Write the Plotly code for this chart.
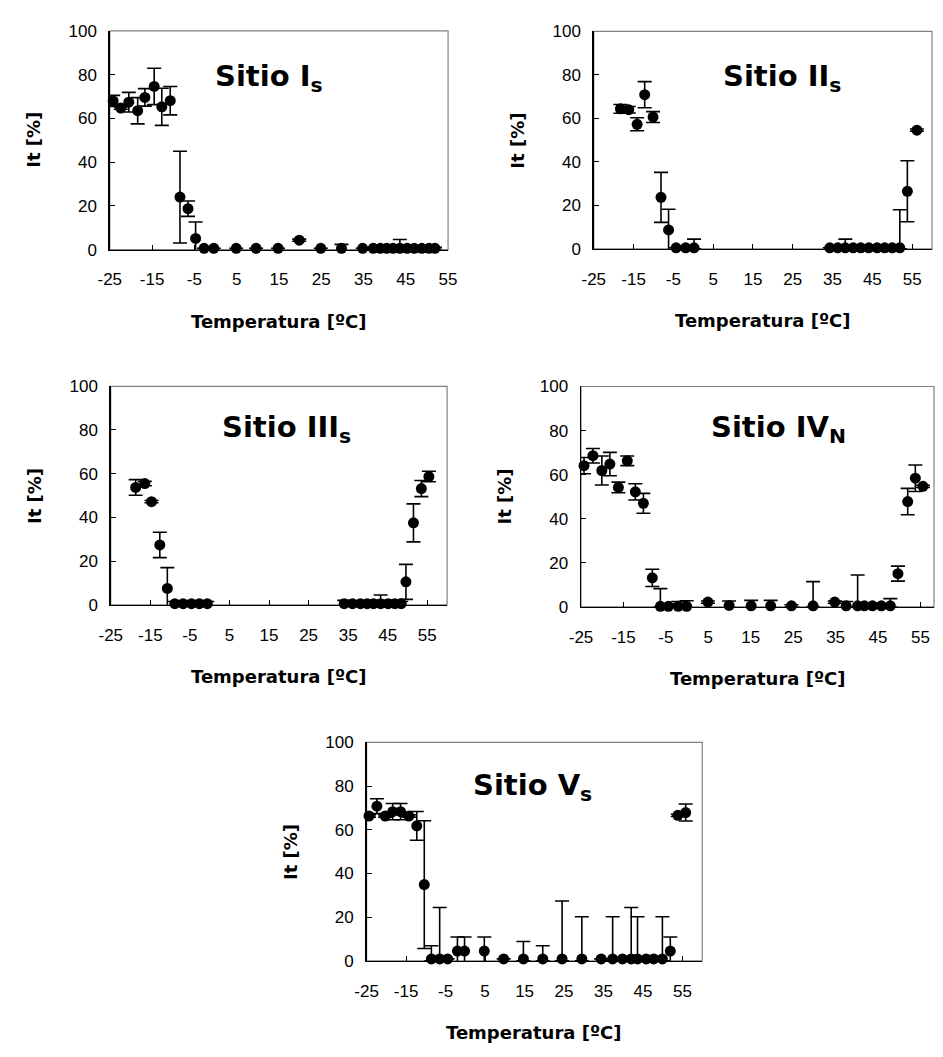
import plotly.graph_objects as go

W, H = 943, 1057

# ---------------- data (temperature, It %, error) ----------------
t1 = [-24.2, -22.4, -20.5, -18.4, -16.7, -14.5, -12.7, -10.7, -8.4, -6.5, -4.7, -2.7, -0.4,
      4.9, 9.6, 14.8, 19.8, 24.9, 29.8, 34.8, 37.3, 39.0, 40.5, 42.0, 43.6, 45.3, 47.0, 48.8, 50.5, 51.9]
v1 = [68, 64.7, 67.4, 63.5, 69.6, 74.6, 65.3, 68.1, 24, 18.7, 5.1, 0.6, 0.6,
      0.6, 0.6, 0.6, 4.3, 0.6, 0.6, 0.6, 0.6, 0.6, 0.6, 0.6, 0.6, 0.6, 0.6, 0.6, 0.6, 0.6]
e1 = [2.5, 0.5, 4.5, 6, 4, 8.3, 8.5, 6.5, 21, 3.5, 7.5, 0, 0,
      0, 0, 0, 0.5, 0, 1.8, 0, 0, 1, 1.5, 1.5, 4, 1.5, 1, 0.5, 0.5, 0.5]

t2 = [-18.3, -16.2, -14.1, -12.2, -10.1, -8.1, -6.2, -4.3, -1.9, 0.2,
      34.3, 36.3, 38.2, 40.2, 42.1, 44.1, 46.2, 48.1, 50.0, 51.9, 53.8, 56.2]
v2 = [64.4, 64, 57.3, 70.9, 60.6, 23.7, 8.7, 0.5, 0.5, 0.5,
      0.5, 0.5, 0.5, 0.5, 0.5, 0.5, 0.5, 0.5, 0.5, 0.5, 26.5, 54.6]
e2 = [2, 1.5, 3, 6, 2.5, 11.5, 9.5, 0, 0, 4,
      0, 0, 4, 0, 0, 0, 0, 0, 0, 17.5, 14, 0.5]

t3 = [-18.7, -16.4, -14.7, -12.6, -10.7, -8.8, -6.7, -4.6, -2.6, -0.6,
      34.0, 36.1, 38.1, 39.8, 41.4, 43.2, 45.1, 46.8, 48.4, 49.6, 51.5, 53.5, 55.4]
v3 = [53.7, 55.5, 47.2, 27.4, 7.5, 0.5, 0.5, 0.5, 0.5, 0.5,
      0.5, 0.5, 0.5, 0.5, 0.5, 0.5, 0.5, 0.5, 0.5, 10.5, 37.5, 53.2, 58.7]
e3 = [3.6, 1, 0.5, 5.8, 9.5, 1, 1, 1, 1, 1,
      1.5, 1, 1, 1, 1.5, 4, 1.5, 1, 1, 8, 8.7, 3.7, 2.4]

t4 = [-24.3, -22.2, -20.1, -18.2, -16.2, -14.1, -12.2, -10.3, -8.2, -6.3, -4.4, -2.1, -0.1,
      4.9, 9.9, 15.1, 19.7, 24.6, 29.7, 34.8, 37.5, 40.2, 41.8, 43.7, 45.8, 47.9, 49.7, 52.0, 53.8, 55.6]
v4 = [64.1, 68.6, 61.9, 64.8, 54.2, 66.3, 52.2, 47, 13.2, 0.3, 0.3, 0.3, 0.3,
      2.2, 0.7, 0.5, 0.5, 0.5, 0.5, 2.2, 0.5, 0.5, 0.5, 0.5, 0.5, 0.5, 15.1, 47.8, 58.4, 54.7]
e4 = [3.7, 3.3, 6.6, 5.3, 2.4, 2.2, 3.7, 4.5, 3.9, 8, 1, 2.2, 2.5,
      0.5, 2, 2.5, 2.5, 0.5, 11, 0.5, 2, 14, 0.5, 0.5, 0.5, 3.3, 3.4, 6, 6, 0.5]

t5 = [-24.4, -22.4, -20.3, -18.4, -16.4, -14.3, -12.3, -10.4, -8.6, -6.5, -4.5, -2.0, -0.2,
      4.8, 9.7, 14.7, 19.6, 24.5, 29.5, 34.4, 37.3, 39.8, 42.0, 43.6, 45.8, 47.7, 49.9, 51.9, 53.8, 55.8]
v5 = [66.3, 70.8, 66.3, 68.3, 68.3, 66.3, 61.8, 34.9, 0.9, 0.9, 0.9, 4.5, 4.5,
      4.5, 0.9, 0.9, 0.9, 0.9, 0.9, 0.9, 0.9, 0.9, 0.9, 0.9, 0.9, 0.9, 0.9, 4.5, 66.6, 67.9]
e5 = [0.5, 3.4, 0.5, 3.7, 3.7, 0.5, 6.6, 29.2, 6, 23.5, 0, 6.4, 6.4,
      6.4, 0, 8, 6, 26.5, 19.3, 0, 19.3, 0, 23.5, 19.3, 0, 0, 19.3, 6.4, 0.5, 3.9]

titles = ["Sitio I<sub>s</sub>", "Sitio II<sub>s</sub>", "Sitio III<sub>s</sub>",
          "Sitio IV<sub>N</sub>", "Sitio V<sub>s</sub>"]
x_ticks = [-25, -15, -5, 5, 15, 25, 35, 45, 55]
x_tick_labels = ["-25", "-15", "-5", "5", "15", "25", "35", "45", "55"]
y_ticks = [0, 20, 40, 60, 80, 100]
x_title = "Temperatura [ºC]"
y_title = "It [%]"

# ---------------- layout (pixel boxes) ----------------
panels = [
    dict(t=t1, v=v1, e=e1, box=(100, 446, 22.3, 245), xr=[-25, 55], title_xy=(263, 70)),
    dict(t=t2, v=v2, e=e2, box=(595, 941, 22.8, 244.3), xr=[-25, 60], title_xy=(788, 70)),
    dict(t=t3, v=v3, e=e3, box=(101, 445, 384.2, 606.7), xr=[-25, 60], title_xy=(281, 428)),
    dict(t=t4, v=v4, e=e4, box=(582, 943, 384.4, 608.9), xr=[-25, 58.2], title_xy=(784, 428)),
    dict(t=t5, v=v5, e=e5, box=(362.7, 706, 746.8, 969.3), xr=[-25, 60], title_xy=(532, 792)),
]

TICKFONT = dict(family="Liberation Sans, Arial", size=17, color="black")
BOLDFONT = dict(family="DejaVu Sans", size=18, color="black", weight="bold")

fig = go.Figure()
annotations = []
shapes = []

for i, p in enumerate(panels, start=1):
    sfx = "" if i == 1 else str(i)
    l, r, tp, bt = p["box"]
    em = []
    for val, err in zip(p["v"], p["e"]):
        em.append(err if val - err >= -2.5 else val)
    fig.add_trace(go.Scatter(
        x=p["t"], y=p["v"], mode="markers",
        marker=dict(color="black", size=11),
        error_y=dict(type="data", array=p["e"], arrayminus=em, symmetric=False,
                     color="black", thickness=1.6, width=7),
        cliponaxis=False, showlegend=False,
        xaxis="x" + sfx, yaxis="y" + sfx,
    ))
    fig.layout["xaxis" + sfx] = dict(
        domain=[l / W, r / W], range=p["xr"], anchor="y" + sfx,
        tickvals=x_ticks, ticktext=x_tick_labels, tickangle=0,
        ticks="inside", ticklen=5, tickcolor="black",
        showline=True, linecolor="black", linewidth=1.5, showgrid=False,
        zeroline=False, tickfont=TICKFONT, ticklabelstandoff=14,
    )
    fig.layout["yaxis" + sfx] = dict(
        domain=[1 - bt / H, 1 - tp / H], range=[0, 100], anchor="x" + sfx,
        tickvals=y_ticks, ticks="inside", ticklen=5, tickcolor="black",
        showline=True, linecolor="black", linewidth=1.5, showgrid=False,
        zeroline=False, tickfont=TICKFONT, ticklabelstandoff=8,
    )
    shapes.append(dict(type="rect", xref=f"x{sfx} domain", yref=f"y{sfx} domain",
                       x0=0, x1=1, y0=0, y1=1, line=dict(color="#808080", width=1.2),
                       layer="below"))
    tx, ty = p["title_xy"]
    annotations.append(dict(text=titles[i - 1], x=tx / W, y=1 - ty / H, xref="paper", yref="paper",
                            showarrow=False, xanchor="center", yanchor="middle",
                            font=dict(family="DejaVu Sans", size=29, color="black", weight="bold")))
    annotations.append(dict(text=x_title, x=((l + r) / 2) / W, y=1 - (bt + 73) / H,
                            xref="paper", yref="paper", showarrow=False,
                            xanchor="center", yanchor="middle", font=BOLDFONT))
    annotations.append(dict(text=y_title, x=(l - 78) / W, y=1 - ((tp + bt) / 2) / H,
                            xref="paper", yref="paper", showarrow=False, textangle=-90,
                            xanchor="center", yanchor="middle", font=BOLDFONT))

fig.update_layout(
    width=W, height=H, autosize=False,
    margin=dict(l=0, r=0, t=0, b=0),
    paper_bgcolor="white", plot_bgcolor="white",
    annotations=annotations, shapes=shapes,
)

fig.write_html("out.html",
               config={"displayModeBar": False, "staticPlot": True},
               post_script="document.body.style.margin='0px';document.body.style.overflow='hidden';")
